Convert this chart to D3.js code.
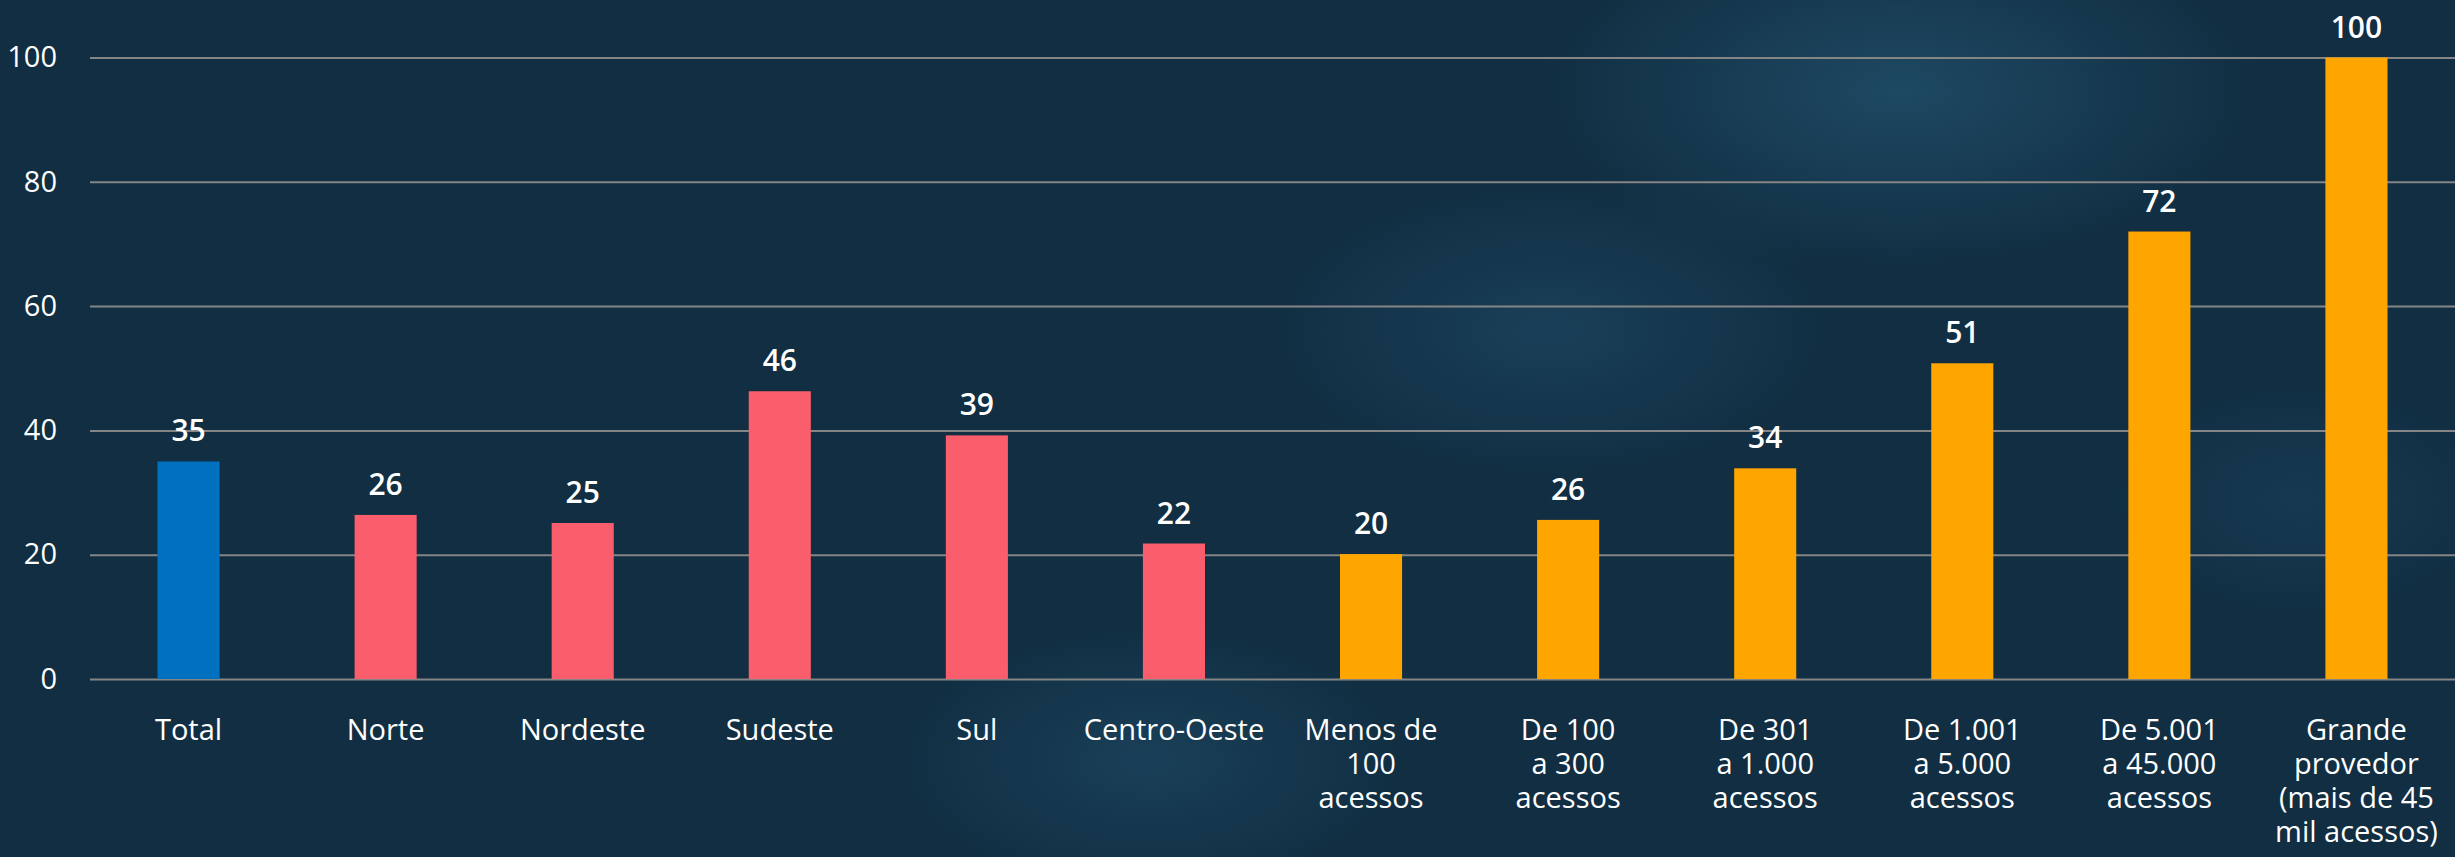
<!DOCTYPE html>
<html>
<head>
<meta charset="utf-8">
<script src="https://cdn.jsdelivr.net/npm/d3@7"></script>
<style>
  html, body { margin: 0; padding: 0; }
  body {
    width: 2455px; height: 857px; overflow: hidden;
    background-color: #112e42;
    background-image:
      radial-gradient(ellipse 520px 260px at 1900px 90px, rgba(40, 95, 125, 0.55), rgba(17, 46, 66, 0) 70%),
      radial-gradient(ellipse 420px 220px at 1550px 330px, rgba(35, 85, 115, 0.45), rgba(17, 46, 66, 0) 70%),
      radial-gradient(ellipse 380px 200px at 1150px 760px, rgba(35, 85, 115, 0.45), rgba(17, 46, 66, 0) 70%),
      radial-gradient(ellipse 300px 180px at 2300px 500px, rgba(30, 75, 105, 0.4), rgba(17, 46, 66, 0) 70%);
  }
  text { font-family: "Segoe UI", "Open Sans", sans-serif; fill: #ffffff; }
</style>
</head>
<body>
<svg id="chart" width="2455" height="857"></svg>
<script>
// categories (each label split on its line breaks)
var categories = [
    ["Total"],
    ["Norte"],
    ["Nordeste"],
    ["Sudeste"],
    ["Sul"],
    ["Centro-Oeste"],
    ["Menos de", "100", "acessos"],
    ["De 100", "a 300", "acessos"],
    ["De 301", "a 1.000", "acessos"],
    ["De 1.001", "a 5.000", "acessos"],
    ["De 5.001", "a 45.000", "acessos"],
    ["Grande", "provedor", "(mais de 45", "mil acessos)"]
];
var groups = ["total", "regiao", "regiao", "regiao", "regiao", "regiao",
              "porte", "porte", "porte", "porte", "porte", "porte"];
var values = [35, 26.4, 25.1, 46.3, 39.2, 21.8, 20.1, 25.6, 33.9, 50.8, 72, 100];
var yTicks = [0, 20, 40, 60, 80, 100];

var svg;
var x;
var y;
var colorScale;

document.addEventListener('DOMContentLoaded', function() {
    svg = d3.select('#chart');

    var data = categories.map(function(c, i) {
        return { key: i, lines: c, group: groups[i], value: values[i] };
    });

    x = d3.scaleBand().domain(data.map(d => d.key)).range([90, 2455])
        .paddingInner(0.685).paddingOuter(0.3425);
    y = d3.scaleLinear().domain([0, 100]).range([679, 57.5]);

    colorScale = d3.scaleOrdinal().domain(["total", "regiao", "porte"])
        .range(["#0070c0", "#fa5e6c", "#ffa500"]);

    // gridlines + y labels
    var yAxis = svg.append("g")
        .attr("id", "y-axis")
        .attr("transform", "translate(90,0)")
        .call(d3.axisLeft(y).tickValues(yTicks).tickSize(-2365).tickPadding(33));
    yAxis.select(".domain").remove();
    yAxis.selectAll(".tick line")
        .attr("stroke", "#858585")
        .attr("stroke-width", 2);
    yAxis.selectAll(".tick text")
        .attr("font-size", "29px")
        .attr("font-family", null)
        .attr("fill", "#ffffff");

    // bars
    svg.append("g").attr("id", "bars")
        .selectAll("rect")
        .data(data)
        .join("rect")
        .attr("x", d => x(d.key))
        .attr("width", x.bandwidth())
        .attr("y", d => y(d.value))
        .attr("height", d => y(0) - y(d.value))
        .attr("fill", d => colorScale(d.group));

    // value labels
    svg.append("g").attr("id", "values")
        .selectAll("text")
        .data(data)
        .join("text")
        .attr("x", d => x(d.key) + x.bandwidth() / 2)
        .attr("y", d => y(d.value) - 20)
        .attr("text-anchor", "middle")
        .attr("font-size", "30px")
        .attr("font-weight", 600)
        .text(d => d3.format(".0f")(d.value));

    // category labels
    var lbl = svg.append("g").attr("id", "x-labels")
        .selectAll("text")
        .data(data)
        .join("text")
        .attr("x", d => x(d.key) + x.bandwidth() / 2)
        .attr("y", 740)
        .attr("text-anchor", "middle")
        .attr("font-size", "29px");
    lbl.selectAll("tspan")
        .data(d => d.lines.map(l => ({ line: l, cx: x(d.key) + x.bandwidth() / 2 })))
        .join("tspan")
        .attr("x", d => d.cx)
        .attr("dy", (d, i) => i === 0 ? 0 : 34)
        .text(d => d.line);
});
</script>
</body>
</html>
